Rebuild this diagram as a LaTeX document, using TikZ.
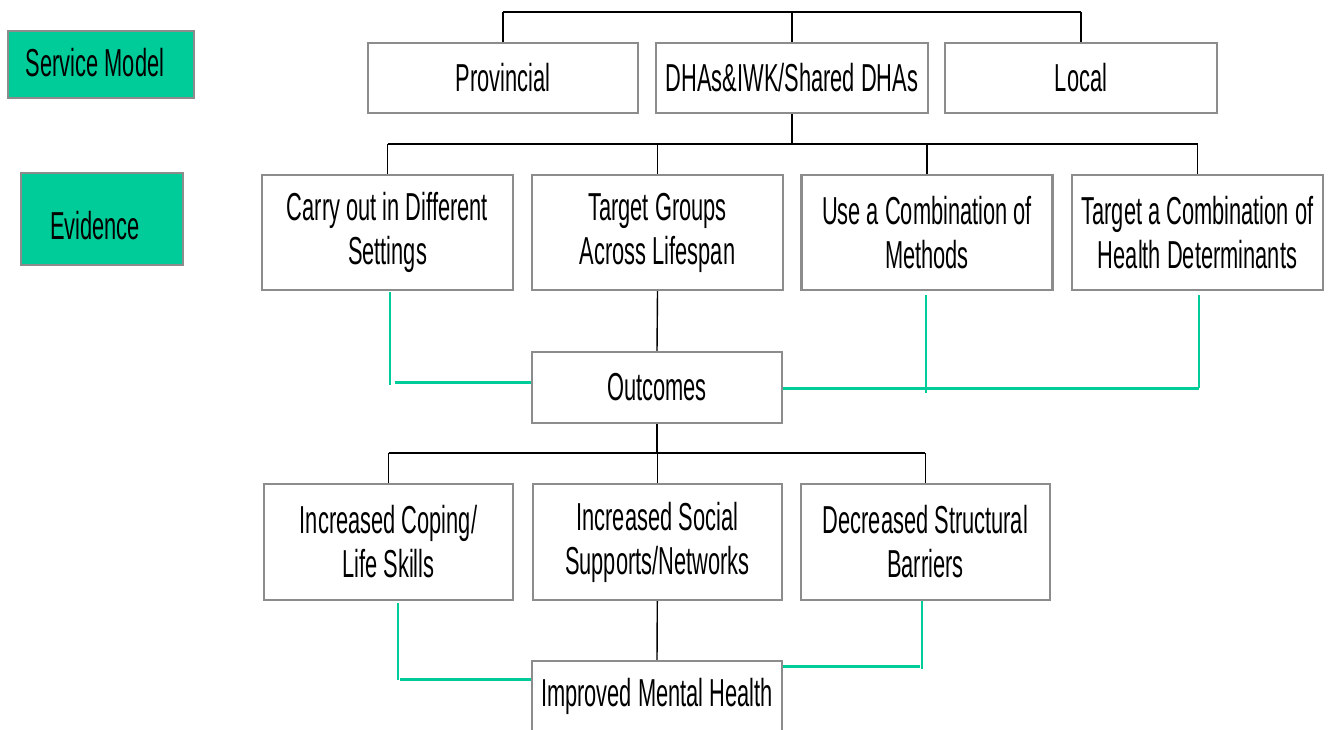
\documentclass[tikz,border=0pt]{standalone}
\usepackage{fontspec}
\setmainfont{Liberation Sans}[FakeStretch=0.56]
\definecolor{boxgray}{HTML}{8C8C8C}
\definecolor{teal}{HTML}{00CC99}
\begin{document}
\begin{tikzpicture}[x=1pt,y=-1pt,
  txt/.style={font=\fontsize{39}{44}\selectfont},
  box/.style={draw=boxgray, line width=2.2pt, fill=white, align=center,
    inner sep=0pt, txt},
  tag/.style={box, fill=teal},
  bar/.style={draw=black, line width=2pt},
  stem/.style={draw=black, line width=1.4pt},
  gbar/.style={draw=teal, line width=3pt},
  gstem/.style={draw=teal, line width=2pt}]
\useasboundingbox (0,0) rectangle (1332,729);
\clip (0,0) rectangle (1332,729);

% level labels
\node[tag, minimum width=186, minimum height=67] (sm) at (101,64.5) {};
\node[txt] (smt) at (95,63) {Service Model};
\node[tag, minimum width=162, minimum height=92] (ev) at (102,219) {};
\node[txt] (evt) at (95,226) {Evidence};

% service model
\node[box, minimum width=270, minimum height=70] (prov)  at (503,78)  {Provincial};
\node[box, minimum width=272, minimum height=70] (dhas)  at (792,78)  {DHAs\&IWK/Shared DHAs};
\node[box, minimum width=272, minimum height=70] (local) at (1081,78) {Local};

% evidence
\node[box, minimum width=251, minimum height=115] (carry) at (387.5,232.5) {Carry out in Different\\Settings};
\node[box, minimum width=251, minimum height=115] (tg)    at (657.5,232.5) {Target Groups\\Across Lifespan};
\node[box, minimum width=251, minimum height=115] (use)   at (927,232.5)   {Use a Combination of\\Methods};
\node[box, minimum width=251, minimum height=115] (tac)   at (1197.5,232.5){Target a Combination of\\Health Determinants};

% outcomes
\node[box, minimum width=250, minimum height=71] (outc) at (657,387.5) {Outcomes};
\node[box, minimum width=249, minimum height=116] (cope)   at (388.5,542) {Increased Coping/\\Life Skills};
\node[box, minimum width=249, minimum height=116] (social) at (657.3,542) {Increased Social\\Supports/Networks};
\node[box, minimum width=249, minimum height=116] (decr)   at (925.4,542) {Decreased Structural\\Barriers};
\node[box, minimum width=250, minimum height=70] (imh) at (657,696) {Improved Mental Health};

% tree rails
\coordinate (r1) at (792,12);
\coordinate (r2) at (792,143.5);
\coordinate (r3) at (657,453);

% top rail
\draw[bar] (prov.north |- r1) -- (local.north |- r1);
\draw[stem] (prov.north) -- (prov.north |- r1);
\draw[stem] (dhas.north) -- (dhas.north |- r1);
\draw[stem] (local.north) -- (local.north |- r1);

% service model to evidence
\draw[stem] (dhas.south) -- (r2);
\draw[bar] (carry.north |- r2) -- (tac.north |- r2);
\draw[stem] (carry.north) -- (carry.north |- r2);
\draw[stem] (tg.north) -- (tg.north |- r2);
\draw[stem] (use.north) -- (use.north |- r2);
\draw[stem] (tac.north) -- (tac.north |- r2);

% evidence to outcomes
\draw[stem] (tg.south) -- (outc.north);
\draw[stem] (outc.south) -- (r3);
\draw[bar] (cope.north |- r3) -- (decr.north |- r3);
\draw[stem] (cope.north) -- (cope.north |- r3);
\draw[stem] (social.north) -- (social.north |- r3);
\draw[stem] (decr.north) -- (decr.north |- r3);
\draw[stem] (social.south) -- (imh.north);

% green feeds into outcomes
\coordinate (ga) at (390,292);
\coordinate (gb) at (390,385);
\coordinate (gc) at (395,382);
\draw[gstem] (ga) -- (gb);
\draw[gbar] (gc) -- (outc.west |- gc);
\coordinate (gd) at (925.5,295);
\coordinate (ge) at (925.5,393);
\draw[gstem] (gd) -- (ge);
\coordinate (gf) at (1198.5,295);
\coordinate (gg) at (1198.5,388);
\draw[gstem] (gf) -- (gg);
\draw[gbar] (outc.east |- gg) -- (gg);

% green feeds into improved mental health
\coordinate (gh) at (398,603);
\coordinate (gi) at (398,680);
\coordinate (gj) at (400,679);
\draw[gstem] (gh) -- (gi);
\draw[gbar] (gj) -- (imh.west |- gj);
\coordinate (gk) at (922,601);
\coordinate (gl) at (922,669);
\coordinate (gm) at (920,666);
\draw[gstem] (gk) -- (gl);
\draw[gbar] (imh.east |- gm) -- (gm);
\end{tikzpicture}
\end{document}
